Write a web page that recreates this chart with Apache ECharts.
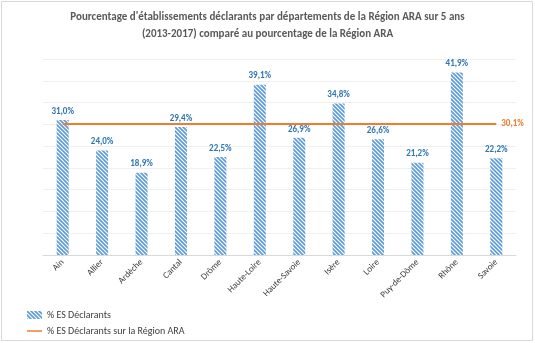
<!DOCTYPE html>
<html><head><meta charset="utf-8">
<script src="https://cdn.jsdelivr.net/npm/echarts@6/dist/echarts.min.js"></script>
<style>html,body{margin:0;padding:0;background:#fff}#c{width:535px;height:343px}</style>
</head><body><div id="c"></div>
<script>
const categories = ['Ain','Allier','Ardèche','Cantal','Drôme','Haute-Loire','Haute-Savoie','Isère','Loire','Puy-de-Dôme','Rhône','Savoie'];
const esDeclarants = [31.0,24.0,18.9,29.4,22.5,39.1,26.9,34.8,26.6,21.2,41.9,22.2];
const regionValue = 30.1;
const regionLine = categories.map(() => regionValue);
const titleText = "Pourcentage d'établissements déclarants par départements de la Région ARA sur 5 ans\n(2013-2017) comparé au pourcentage de la Région ARA";

function hatch(){
  const s = 4, c = document.createElement('canvas');
  c.width = s; c.height = s;
  const g = c.getContext('2d');
  g.fillStyle = '#fff'; g.fillRect(0,0,s,s);
  g.strokeStyle = '#5B9BD5'; g.lineWidth = 1.6;
  g.beginPath();
  g.moveTo(-1,-1); g.lineTo(s+1,s+1);
  g.moveTo(-1,s-1); g.lineTo(1,s+1);
  g.moveTo(s-1,-1); g.lineTo(s+1,1);
  g.stroke();
  return c;
}
const pat = {image: hatch(), repeat: 'repeat'};
const fmt = v => v.toFixed(1).replace('.', ',') + '%';
const font = '"Carlito", "Liberation Sans Narrow", "Open Sans", sans-serif';

const chart = echarts.init(document.getElementById('c'), null, {renderer: 'canvas'});
chart.setOption({
  animation: false,
  textStyle: {fontFamily: font},
  title: {text: titleText, left: 'center', top: 4,
    textStyle: {fontSize: 11, fontWeight: 'bold', color: '#595959', lineHeight: 17, fontFamily: font}},
  graphic: [{type: 'rect', shape: {x: 1.5, y: 1.5, width: 531, height: 339}, style: {fill: 'none', stroke: '#D9D9D9', lineWidth: 1}, silent: true}],
  grid: {left: 43, right: 19, top: 59, bottom: 88},
  legend: {orient: 'vertical', left: 22, top: 305, itemGap: 6, itemWidth: 15, itemHeight: 8,
    textStyle: {fontSize: 10, color: '#404040', fontFamily: font},
    data: [{name: '% ES Déclarants', icon: 'rect'},
      {name: '% ES Déclarants sur la Région ARA', icon: 'path://M0,0L0.01,0L0.01,0.01ZM0,3.1L16,3.1L16,4.9L0,4.9ZM0,8L0.01,8L0.01,7.99Z'}]},
  xAxis: {type: 'category', data: categories,
    axisLine: {lineStyle: {color: '#D9D9D9'}}, axisTick: {show: false},
    axisLabel: {rotate: 45, fontSize: 9, color: '#404040', interval: 0, margin: 6, fontFamily: font}},
  yAxis: {type: 'value', min: 0, max: 45, interval: 5,
    axisLabel: {show: false}, axisLine: {show: false}, axisTick: {show: false},
    splitLine: {lineStyle: {color: '#EFEFEF'}}},
  series: [
    {name: '% ES Déclarants', type: 'bar', data: esDeclarants, barWidth: 12,
      itemStyle: {color: pat},
      label: {show: true, position: 'top', distance: 4, formatter: p => fmt(p.value),
        fontSize: 9, fontWeight: 'bold', color: '#2E75B6', fontFamily: font}},
    {name: '% ES Déclarants sur la Région ARA', type: 'line', data: regionLine, symbol: 'none',
      lineStyle: {color: '#ED7D31', width: 2}, itemStyle: {color: '#ED7D31'}, z: 3,
      endLabel: {show: true, formatter: () => fmt(regionValue), fontSize: 9, fontWeight: 'bold', color: '#ED7D31', distance: 5, fontFamily: font}}
  ]
});
</script></body></html>
